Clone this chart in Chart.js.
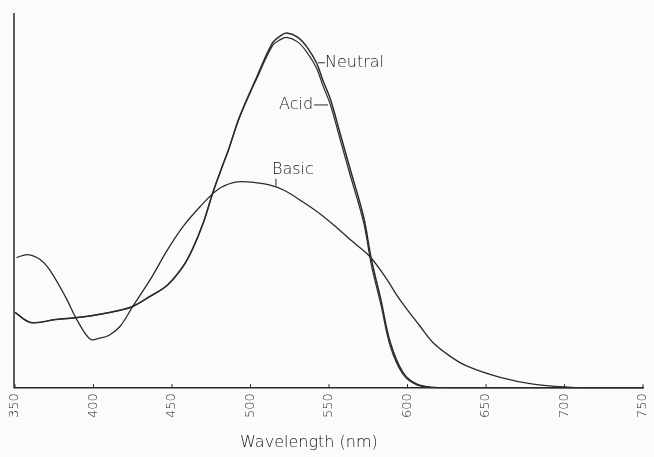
<!DOCTYPE html>
<html>
<head>
<meta charset="utf-8">
<title>Absorption spectra</title>
<script src="https://cdn.jsdelivr.net/npm/chart.js@4.4.0/dist/chart.umd.min.js"></script>
<style>
    body { margin: 0; background: #fbfbfa; }
    #spectrum { display: block; }
</style>
</head>
<body>
<canvas id="spectrum" width="654" height="457"></canvas>
<script>
// 光譜資料（波長 nm / 相對吸光度，自圖上讀取）
const neutralNm = [350, 360, 376, 391, 404, 417, 425, 436, 447, 457, 463, 470, 476, 482, 486, 493, 504, 514, 519, 523, 530, 536, 542, 546, 551, 557, 563, 572, 577, 583, 589, 597, 606, 621, 650, 700, 750];
const neutralAbs = [20.3, 17.6, 18.4, 19.0, 19.8, 20.9, 21.9, 24.6, 27.6, 32.6, 37.2, 44.4, 52.4, 59.4, 63.9, 72.7, 83.4, 92.5, 94.4, 95.2, 94.1, 91.4, 87.2, 82.6, 77.3, 68.4, 59.4, 46.0, 34.5, 23.8, 12.3, 4.3, 1.1, 0.1, 0, 0, 0];
const acidAbs = [20.3, 17.6, 18.4, 19.0, 19.8, 20.9, 21.9, 24.6, 27.6, 32.6, 37.2, 44.4, 52.4, 59.4, 63.9, 72.5, 83.0, 91.8, 93.4, 94.0, 92.8, 90.0, 85.8, 81.2, 75.8, 66.8, 57.8, 44.5, 33.0, 22.5, 11.3, 3.8, 0.9, 0, 0, 0, 0];

const basicNm = [351, 358, 366, 372, 382, 390, 398, 404, 410, 417, 425, 436, 447, 457, 468, 479, 489, 498, 512, 522, 533, 544, 555, 565, 576, 586, 595, 608, 616, 627, 638, 659, 680, 702, 723, 750];
const basicAbs = [35.0, 35.8, 34.5, 31.8, 24.6, 17.9, 13.1, 13.4, 14.2, 16.6, 21.9, 29.0, 37.0, 43.3, 48.7, 53.2, 55.1, 55.3, 54.5, 52.9, 50.0, 46.8, 43.0, 39.3, 35.3, 29.7, 23.8, 16.6, 12.3, 8.6, 5.9, 2.9, 1.1, 0.3, 0, 0];

const xTicks = [350, 400, 450, 500, 550, 600, 650, 700, 750];

// 曲線標註：文字、曲線上的錨點
const curveLabels = [
    { text: 'Neutral', nm: 543, abs: 87.2, side: 'right' },
    { text: 'Acid', nm: 549.4, abs: 75.9, side: 'left' },
    { text: 'Basic', nm: 516.2, abs: 54.0, side: 'up' },
];

const ink = '#2a2a2a';
const textInk = '#1c1c1c';
const fontFamily = "'DejaVu Sans', 'Liberation Sans', sans-serif";

function toPoints(xs, ys) {
    return xs.map((x, i) => ({ x: x, y: ys[i] }));
}

/**
 * 手繪風格的座標軸、刻度與標註
 */
const paperPlugin = {
    id: 'paper',
    afterDraw(chart) {
        const ctx = chart.ctx;
        const area = chart.chartArea;
        const xs = chart.scales.x;
        const ys = chart.scales.y;

        ctx.save();
        ctx.strokeStyle = ink;
        ctx.lineWidth = 1.5;

        // 左側縱軸
        ctx.beginPath();
        ctx.moveTo(area.left - 1, area.top - 2);
        ctx.lineTo(area.left - 1, area.bottom);
        ctx.stroke();

        // 內側刻度
        ctx.lineWidth = 1;
        xTicks.forEach((t) => {
            const px = xs.getPixelForValue(t);
            ctx.beginPath();
            ctx.moveTo(px, area.bottom);
            ctx.lineTo(px, area.bottom - 4);
            ctx.stroke();
        });

        // 曲線標註
        ctx.fillStyle = textInk;
        ctx.font = '200 16px ' + fontFamily;
        ctx.textBaseline = 'middle';
        curveLabels.forEach((l) => {
            const px = xs.getPixelForValue(l.nm);
            const py = ys.getPixelForValue(l.abs);
            ctx.beginPath();
            if (l.side === 'right') {
                ctx.moveTo(px, py);
                ctx.lineTo(px + 7, py);
                ctx.stroke();
                ctx.textAlign = 'left';
                ctx.fillText(l.text, px + 7, py);
            } else if (l.side === 'left') {
                ctx.moveTo(px, py);
                ctx.lineTo(px - 14, py);
                ctx.stroke();
                ctx.textAlign = 'right';
                ctx.fillText(l.text, px - 15, py);
            } else {
                ctx.moveTo(px, py);
                ctx.lineTo(px, py - 8);
                ctx.stroke();
                ctx.textAlign = 'left';
                ctx.fillText(l.text, px - 4, py - 17);
            }
        });

        // 橫軸標題
        ctx.textAlign = 'center';
        ctx.fillText('Wavelength (nm)', area.left + (area.right - area.left) * 0.468, 443);
        ctx.restore();
    },
};

const lineStyle = {
    borderColor: ink,
    borderWidth: 1.5,
    pointRadius: 0,
    fill: false,
    tension: 0.35,
};

const spectrumChart = new Chart(document.getElementById('spectrum'), {
    type: 'line',
    data: {
        datasets: [
            Object.assign({ label: 'Neutral', data: toPoints(neutralNm, neutralAbs) }, lineStyle),
            Object.assign({ label: 'Acid', data: toPoints(neutralNm, acidAbs) }, lineStyle, { borderWidth: 1.2 }),
            Object.assign({ label: 'Basic', data: toPoints(basicNm, basicAbs) }, lineStyle, { borderWidth: 1.3 }),
        ],
    },
    options: {
        responsive: false,
        animation: false,
        layout: {
            padding: { left: 15, right: 11, top: 15, bottom: 34 },
        },
        plugins: {
            legend: { display: false },
            tooltip: { enabled: false },
        },
        scales: {
            x: {
                type: 'linear',
                min: 350,
                max: 750,
                afterBuildTicks: (axis) => {
                    axis.ticks = xTicks.map((v) => ({ value: v }));
                },
                // 旋轉標籤不另留左右空白
                afterFit: (axis) => {
                    axis.paddingLeft = 0;
                    axis.paddingRight = 0;
                },
                grid: { display: false, drawTicks: false },
                border: { display: true, color: ink, width: 1.5 },
                ticks: {
                    color: textInk,
                    padding: 5,
                    minRotation: 90,
                    maxRotation: 90,
                    font: { family: fontFamily, size: 13, weight: '200' },
                },
            },
            y: {
                display: false,
                min: 0,
                max: 100,
            },
        },
    },
    plugins: [paperPlugin],
});
</script>
</body>
</html>
